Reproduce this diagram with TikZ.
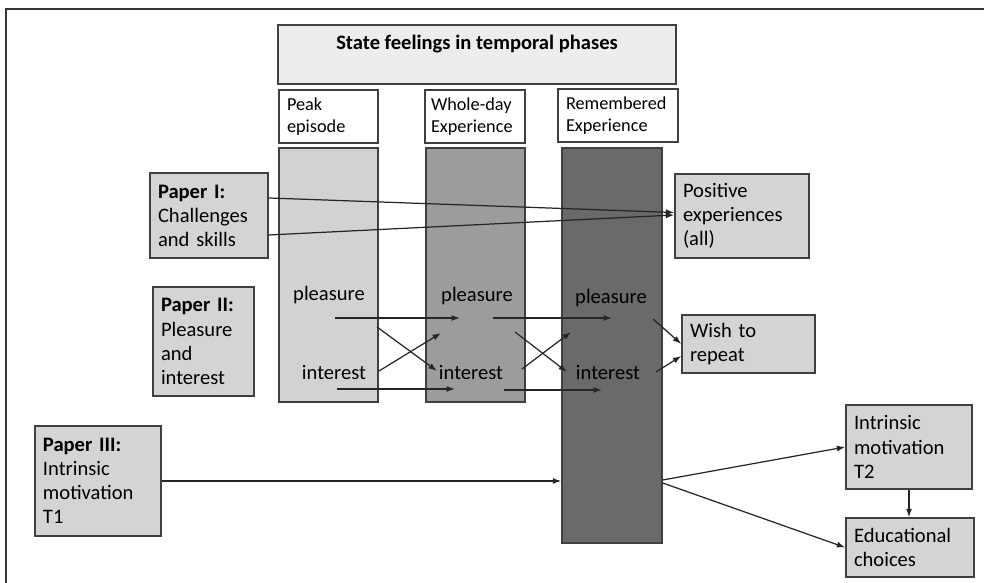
\documentclass[tikz,border=0pt]{standalone}
\usepackage{fontspec}
\setmainfont{Carlito}
\usepackage{xcolor}
\usepackage{tikz}
\usetikzlibrary{arrows.meta, calc}

\definecolor{boxgray}{HTML}{D4D4D4}
\definecolor{titlegray}{HTML}{EDEDED}
\definecolor{coldark}{HTML}{6A6A6A}
\definecolor{colmid}{HTML}{9C9C9C}
\definecolor{collight}{HTML}{D2D2D2}
\definecolor{edge}{HTML}{404040}

\tikzset{
  box/.style={draw=edge, line width=0.8pt, fill=boxgray, align=left,
    inner xsep=1.6mm, inner ysep=0pt, font=\fontsize{11.7}{13.7}\selectfont},
  headbox/.style={box, fill=white, font=\fontsize{10.4}{12.6}\selectfont},
  phase/.style={draw=edge, line width=0.8pt, minimum width=19.8mm, inner sep=0pt},
  feel/.style={inner sep=0pt, font=\fontsize{11.7}{13.7}\selectfont},
  arr/.style={-{Latex[length=1.7mm,width=1.2mm]}, line width=0.7pt, black!85}
}

\begin{document}
\begin{tikzpicture}[x=0.2mm, y=-0.2mm]
\useasboundingbox (0,0) rectangle (984,583);
% frame
\draw[line width=0.4mm, black!80] (6,583) -- (6,9) -- (984,9);

% phases
\node[box, fill=titlegray, minimum width=79.6mm, text height=8.2pt, text depth=14.4pt,
  inner ysep=5.5pt, align=center, font=\fontsize{11.7}{13.7}\selectfont\bfseries]
  (title) at (477,54.5) {State feelings in temporal phases};
\node[headbox, text width=16.6mm, minimum height=10.6mm] (peak) at (328.5,116.5) {Peak\\episode};
\node[headbox, text width=17.6mm, inner xsep=1.2mm, minimum height=10.6mm] (wholeday) at (475,116.5)
  {\mbox{Whole-day}\\\mbox{Experience}};
\node[headbox, text width=20.8mm, minimum height=10.6mm] (remembered) at (618,115.5) {Remembered\\Experience};

\node[phase, fill=collight, minimum height=50.8mm] (colpeak) at (328.5,275) {};
\node[phase, fill=colmid, minimum height=50.8mm] (colday) at (475.5,275) {};
\node[phase, fill=coldark, minimum width=20mm, minimum height=79mm] (colrem) at (612,345.5) {};

\node[feel] (pl1) at (329,295) {pleasure};
\node[feel] (in1) at (334,373) {interest};
\node[feel] (pl2) at (477,296) {pleasure};
\node[feel] (in2) at (471,373) {interest};
\node[feel] (pl3) at (611,298) {pleasure};
\node[feel] (in3) at (608,373) {interest};

% papers
\node[box, text width=20.4mm, minimum height=17mm] (p1) at (209,215.5)
  {\textbf{Paper I:}\\Challenges\\and skills};
\node[box, text width=17mm, minimum height=21.8mm] (p2) at (203.5,341.5)
  {\textbf{Paper II:}\\Pleasure\\and\\interest};
\node[box, text width=22mm, minimum height=22mm] (p3) at (98,481)
  {\textbf{Paper III:}\\Intrinsic\\motivation\\T1};

% outcomes
\node[box, text width=23.6mm, minimum height=16.8mm] (pos) at (742,216)
  {Positive\\experiences\\(all)};
\node[box, text width=23.4mm, minimum height=11.6mm] (wish) at (748.5,344)
  {Wish to\\repeat};
\node[box, text width=22mm, minimum height=16.8mm] (imt2) at (909,447)
  {Intrinsic\\motivation\\T2};
\node[box, text width=22.4mm, minimum height=11.8mm] (edu) at (910,547.5)
  {Educational\\choices};

% links between feelings
\coordinate (plA) at (335,318);  \coordinate (plB) at (460,318);
\coordinate (inA) at (337,389);  \coordinate (inB) at (455,389);
\coordinate (xA1) at (377,327);  \coordinate (xB1) at (437,371);
\coordinate (xA2) at (379,371);  \coordinate (xB2) at (441,333);
\coordinate (plC) at (493,318);  \coordinate (plD) at (612,318);
\coordinate (inC) at (504,390);  \coordinate (inD) at (602,390);
\coordinate (xC1) at (515,332);  \coordinate (xD1) at (567,372);
\coordinate (xC2) at (522,369);  \coordinate (xD2) at (571,332);
\coordinate (plE) at (653,319);  \coordinate (inE) at (656,372);

\draw[arr] ([yshift=3.5mm]p1.east) -- ([yshift=0.7mm]pos.west);
\draw[arr] ([yshift=-3.9mm]p1.east) -- ([yshift=0.2mm]pos.west);
\draw[arr] (plA) -- (plB);
\draw[arr] (inA) -- (inB);
\draw[arr] (xA1) -- (xB1);
\draw[arr] (xA2) -- (xB2);
\draw[arr] (plC) -- (plD);
\draw[arr] (inC) -- (inD);
\draw[arr] (xC1) -- (xD1);
\draw[arr] (xC2) -- (xD2);
\draw[arr] (plE) -- (wish.west);
\draw[arr] (inE) -- ([yshift=-2.4mm]wish.west);
\draw[arr] (p3.east) -- (p3.east -| colrem.west);
\draw[arr] ([yshift=0.2mm]p3.east -| colrem.east) -- (imt2.west);
\draw[arr] ([yshift=-0.4mm]p3.east -| colrem.east) -- (edu.west);
\draw[arr] (imt2.south) -- (imt2.south |- edu.north);
\end{tikzpicture}
\end{document}
